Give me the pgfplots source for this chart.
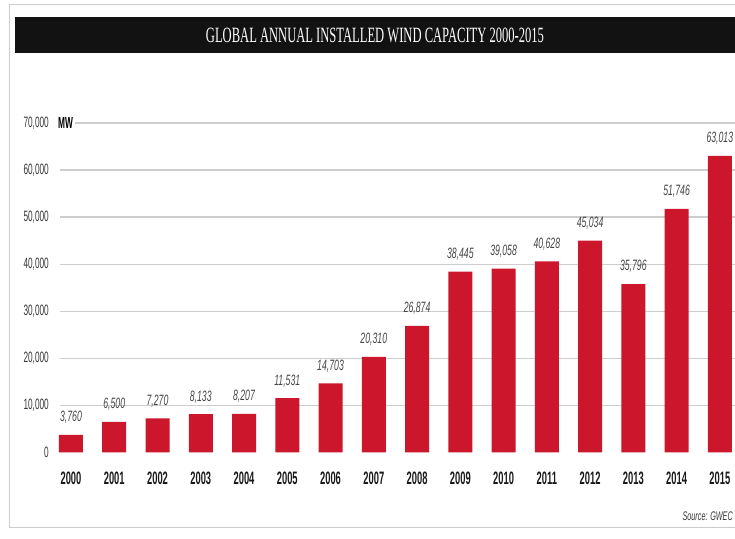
\documentclass[border=0pt]{standalone}
\usepackage{pgfplots}
\pgfplotsset{compat=1.18}
\usepackage{fontspec}
\setmainfont{Liberation Sans}
\newfontfamily\tickfont[FakeStretch=0.55]{Liberation Sans}
\newfontfamily\valfont[FakeStretch=0.58]{Liberation Sans}
\newfontfamily\yearfont[FakeStretch=0.52]{Liberation Sans}
\newfontfamily\titlefont{Liberation Serif}
\definecolor{barred}{RGB}{204,22,44}
\definecolor{gridgray}{RGB}{205,205,205}
\definecolor{ticktext}{RGB}{55,55,55}
\definecolor{valtext}{RGB}{70,70,70}
\begin{document}
\begin{tikzpicture}
\path[use as bounding box] (0bp,0bp) rectangle (735bp,539bp);
\draw[gray!40, line width=0.8bp] (735bp,534.5bp) -- (9bp,534.5bp) -- (9bp,12bp) -- (735bp,12bp);
\fill[black!93] (15bp,486bp) rectangle (735bp,522bp);
\node[white, inner sep=0pt] at (375bp,504bp) {\resizebox{338bp}{14.5bp}{\titlefont GLOBAL ANNUAL INSTALLED WIND CAPACITY 2000-2015}};
\begin{axis}[
  at={(60bp,86.5bp)}, anchor=south west,
  scale only axis, width=675bp, height=329.5bp,
  xmin=-0.254, xmax=15.35, ymin=0, ymax=70000,
  clip=false,
  axis line style={draw=none},
  major tick length=0pt,
  ytick={10000,20000,30000,40000,50000,60000,70000},
  extra y ticks={0},
  extra y tick style={grid=none},
  ymajorgrids,
  grid style={gridgray, line width=1.3bp},
  scaled y ticks=false,
  /pgf/number format/assume math mode=true,
  /pgf/number format/1000 sep={,},
  yticklabel style={font=\tickfont\fontsize{15bp}{15bp}\selectfont, text=ticktext, inner sep=0pt, xshift=-11bp},
  xtick={0,...,15},
  xticklabels={2000,2001,2002,2003,2004,2005,2006,2007,2008,2009,2010,2011,2012,2013,2014,2015},
  xticklabel style={font=\yearfont\bfseries\fontsize{18bp}{18bp}\selectfont, text=black!90, inner sep=0pt, yshift=-19bp},
  ybar, bar width=24bp,
  nodes near coords,
  nodes near coords style={font=\valfont\itshape\fontsize{15bp}{15bp}\selectfont, text=valtext, anchor=south, inner sep=0pt, yshift=11bp},
]
\addplot[fill=barred, draw=none] coordinates {
(0,3760) (1,6500) (2,7270) (3,8133) (4,8207) (5,11531) (6,14703) (7,20310)
(8,26874) (9,38445) (10,39058) (11,40628) (12,45034) (13,35796) (14,51746) (15,63013)
};
\node[anchor=west, fill=white, inner xsep=2bp, inner ysep=1bp, font=\yearfont\bfseries\fontsize{16bp}{16bp}\selectfont] at (rel axis cs:0,1) [xshift=-4bp] {MW\hspace{2bp}};
\end{axis}
\node[anchor=east, inner sep=0pt, text=ticktext, font=\valfont\itshape\fontsize{12.5bp}{12.5bp}\selectfont] at (733bp,23bp) {Source: GWEC};
\end{tikzpicture}
\end{document}
